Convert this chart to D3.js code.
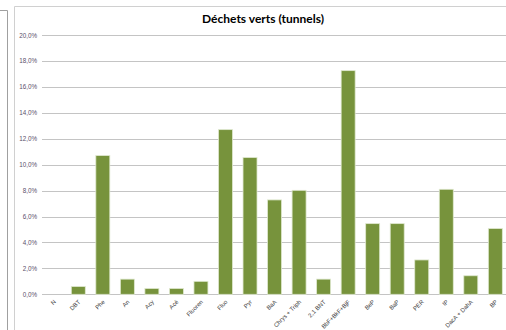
<!DOCTYPE html>
<html><head><meta charset="utf-8">
<script src="https://cdn.jsdelivr.net/npm/d3@7"></script>
<style>body{margin:0;background:#fff}svg{display:block}</style>
</head><body>
<script>
const categories = ["N","DBT","Phe","An","Acy","Acé","Fluoren","Fluo","Pyr","BaA","Chrys + Triph","2,1 BNT","BbF+BkF+BjF","BeP","BaP","PER","IP","DacA + DahA","BP"];
const values = [0,0.6,10.7,1.17,0.45,0.45,1.0,12.7,10.55,7.28,8.02,1.17,17.25,5.45,5.45,2.65,8.1,1.43,5.07];
const yTicks = [0,2,4,6,8,10,12,14,16,18,20];
const title = "Déchets verts (tunnels)";

const W = 506, H = 330;
const svg = d3.select("body").append("svg").attr("width", W).attr("height", H);

// frames
svg.append("path").attr("d","M0,10.5H7.5V330").attr("fill","none").attr("stroke","#a0a0a0").attr("stroke-width",1);
svg.append("path").attr("d","M14.5,330V6.5H506").attr("fill","none").attr("stroke","#d0d0d0").attr("stroke-width",1);

const x = d3.scaleBand().domain(categories).range([41.5, 507.6]).paddingInner(0.43).paddingOuter(0.215);
const y = d3.scaleLinear().domain([0,20]).range([294.3, 35]);

// gridlines
svg.append("g").selectAll("line").data(yTicks).join("line")
  .attr("x1", 42).attr("x2", W)
  .attr("y1", d => Math.round(y(d))+0.5).attr("y2", d => Math.round(y(d))+0.5)
  .attr("stroke", "#c4c4c4").attr("stroke-width", 1.2);

// y axis labels
const yAxis = d3.axisLeft(y).tickValues(yTicks).tickSize(0).tickPadding(0)
  .tickFormat(d => d.toFixed(1).replace(".", ",") + "%");
const gy = svg.append("g").attr("transform","translate(37,0)").call(yAxis);
gy.select(".domain").remove();
gy.selectAll("text").attr("font-family","Liberation Sans, Arial, sans-serif").attr("font-size","6.3px").attr("fill","#5a4f6a");

// bars
svg.append("g").selectAll("rect").data(categories).join("rect")
  .attr("x", d => x(d)).attr("width", x.bandwidth())
  .attr("y", (d,i) => y(values[i])).attr("height", (d,i) => y(0) - y(values[i]))
  .attr("fill", "#77933c").attr("stroke", "#dfe8cf").attr("stroke-width", 0.8);

// x axis labels along 45° diagonal paths
const defs = svg.append("defs");
const L = 80, k = Math.SQRT1_2;
defs.selectAll("path").data(categories).join("path")
  .attr("id", (d,i) => "lp" + i)
  .attr("d", d => {
    const ex = x(d) + x.bandwidth()/2 + 2.5, ey = y(0) + 8;
    return "M" + (ex - L*k) + "," + (ey + L*k) + "L" + ex + "," + ey;
  });
svg.append("g").selectAll("text").data(categories).join("text")
  .attr("font-family","Liberation Sans, Arial, sans-serif").attr("font-size","6px").attr("fill","#404040")
  .append("textPath")
  .attr("href", (d,i) => "#lp" + i)
  .attr("startOffset", "100%")
  .attr("text-anchor", "end")
  .text(d => d);

// title
svg.append("text").attr("x", 263).attr("y", 23).attr("text-anchor","middle")
  .attr("font-family","Lato, Open Sans, sans-serif").attr("font-weight","bold").attr("font-size","12px")
  .attr("fill","#000").text(title);
</script>
</body></html>
